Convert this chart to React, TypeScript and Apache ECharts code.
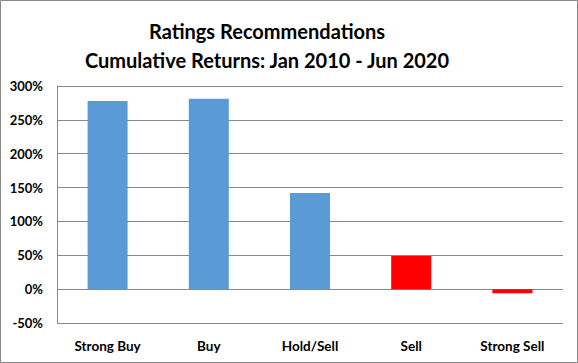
import React, { useEffect, useRef } from "react";
import * as echarts from "echarts";

const categories = ["Strong Buy", "Buy", "Hold/Sell", "Sell", "Strong Sell"];
const returns = [278, 281, 142, 49, -6];
const barColors = ["#5B9BD5", "#5B9BD5", "#5B9BD5", "#FF0000", "#FF0000"];
const titleLines = ["Ratings Recommendations", "Cumulative Returns: Jan 2010 - Jun 2020"];

const FONT = "Lato, 'Open Sans', sans-serif";

export default function App() {
  const ref = useRef<HTMLDivElement>(null);
  useEffect(() => {
    if (!ref.current) return;
    const chart = echarts.init(ref.current, null, { renderer: "svg" });
    chart.setOption({
      animation: false,
      backgroundColor: "#ffffff",
      title: {
        text: titleLines.join("\n"),
        left: 262,
        top: 11,
        textAlign: "center",
        textStyle: {
          fontFamily: FONT,
          fontWeight: "bold",
          fontSize: 20,
          lineHeight: 29,
          color: "#000",
        },
      },
      graphic: [
        {
          type: "rect",
          shape: { x: 0.5, y: 0.5, width: 577, height: 362 },
          style: { fill: "none", stroke: "#888", lineWidth: 1 },
          silent: true,
        },
      ],
      grid: { left: 57, right: 15, top: 86, bottom: 40 },
      xAxis: {
        type: "category",
        data: categories,
        axisLine: { show: false },
        axisTick: { show: false },
        axisLabel: {
          margin: 16,
          fontFamily: FONT,
          fontWeight: "bold",
          fontSize: 13.5,
          color: "#000",
        },
      },
      yAxis: {
        type: "value",
        min: -50,
        max: 300,
        interval: 50,
        axisLine: { show: true, lineStyle: { color: "#888", width: 1 } },
        axisTick: { show: false },
        splitLine: { show: true, lineStyle: { color: "#888", width: 1 } },
        axisLabel: {
          formatter: "{value}%",
          margin: 14,
          fontFamily: FONT,
          fontWeight: "bold",
          fontSize: 13,
          color: "#000",
        },
      },
      series: [
        {
          type: "bar",
          barWidth: 40,
          data: returns.map((v, i) => ({ value: v, itemStyle: { color: barColors[i] } })),
        },
      ],
    });
    return () => chart.dispose();
  }, []);
  return (
    <div
      ref={ref}
      style={{ position: "fixed", left: 0, top: 0, width: 578, height: 363 }}
    />
  );
}
